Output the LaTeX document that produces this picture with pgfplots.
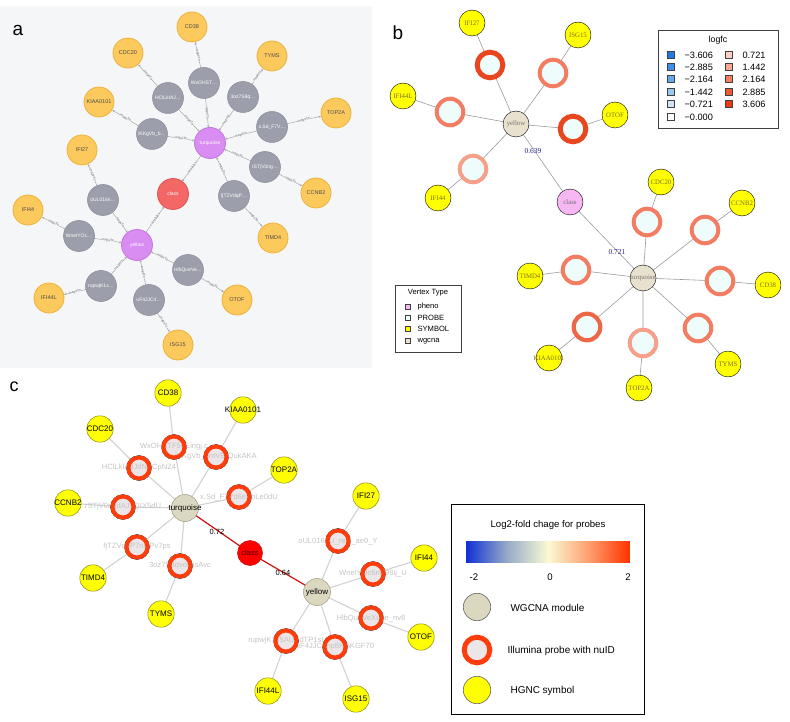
\documentclass[border=0pt]{standalone}
\usepackage{fontspec}
\setmainfont{Liberation Sans}
\newfontfamily\seriffont{Liberation Serif}
\usepackage{pgfplots}
\pgfplotsset{compat=1.18}
\usetikzlibrary{arrows.meta}
\newcommand\fs[1]{\fontsize{#1}{#1}\selectfont}
% colours
\definecolor{bgA}{HTML}{F5F6F8}
\definecolor{symA}{HTML}{FCC95C}
\definecolor{symAb}{HTML}{EDB13E}
\definecolor{prbA}{HTML}{9C9FAB}
\definecolor{prbAb}{HTML}{8F929E}
\definecolor{modA}{HTML}{D98DF2}
\definecolor{modAb}{HTML}{C277DD}
\definecolor{clsA}{HTML}{F36767}
\definecolor{clsAb}{HTML}{E05555}
\definecolor{edgeA}{HTML}{A8A8A8}
\definecolor{ylw}{HTML}{FFFF00}
\definecolor{ylwtxt}{HTML}{807020}
\definecolor{modB}{HTML}{E8E1CE}
\definecolor{clsB}{HTML}{F6B7F2}
\definecolor{prbfillB}{HTML}{EFFCFC}
\definecolor{ringDark}{HTML}{E8461E}
\definecolor{ringMid}{HTML}{F27D62}
\definecolor{ringMid2}{HTML}{EE6648}
\definecolor{ringLight}{HTML}{F5A08A}
\definecolor{navy}{HTML}{252590}
\definecolor{edgeB}{HTML}{9A9A9A}
\definecolor{modC}{HTML}{DCD8C0}
\definecolor{modCb}{HTML}{A8A490}
\definecolor{ringC}{HTML}{FF3D0C}
\definecolor{prbfillC}{HTML}{ECE6E8}
\definecolor{edgeC}{HTML}{D2D2D2}
\definecolor{redC}{HTML}{D01010}
\definecolor{lblC}{HTML}{C4C4C4}
\definecolor{symCb}{HTML}{9A9A20}
\definecolor{bl1}{HTML}{1F7BE0}
\definecolor{bl2}{HTML}{3F8FE6}
\definecolor{bl3}{HTML}{64A8EC}
\definecolor{bl4}{HTML}{9AC7F2}
\definecolor{bl5}{HTML}{CFE2F6}
\definecolor{rd1}{HTML}{F8CFC4}
\definecolor{rd2}{HTML}{F4A895}
\definecolor{rd3}{HTML}{F08060}
\definecolor{rd4}{HTML}{EC5A3A}
\definecolor{rd5}{HTML}{E83A14}
% edge macros
\newcommand\eA[5]{\addplot[color=edgeA, line width=0.5pt, shorten >=15.5pt, -{Stealth[length=2.4pt,width=2.2pt]}, no marks] coordinates {(#1,#2) (#3,#4)} node[pos=0.5, sloped, fill=bgA, inner sep=0.2pt, text=black!60, font=\fs{3.4}] {#5};}
\newcommand\eB[6]{\addplot[color=edgeB, line width=0.6pt, no marks] coordinates {(#1,#2) (#3,#4) (#5,#6)};}
\newcommand\eC[6]{\addplot[color=edgeC, line width=1.1pt, no marks] coordinates {(#1,#2) (#3,#4) (#5,#6)};}
\newcommand\sq[4]{\addplot[only marks, mark=square*, mark size=#4, mark options={fill=#3, draw=black!75, line width=0.5pt}] coordinates {(#1,#2)};}
\begin{document}
\begin{tikzpicture}
\begin{axis}[
  scale only axis, width=790pt, height=722pt,
  xmin=0, xmax=790, ymin=0, ymax=722, y dir=reverse,
  hide axis, clip=false,
  colormap={lfc}{rgb255=(16,48,210) rgb255=(150,170,200) rgb255=(250,250,212) rgb255=(255,160,112) rgb255=(255,52,0)},
  point meta min=-2, point meta max=2,
]
\addplot[draw=none, no marks] coordinates {(0,0) (790,722)};
% ================= panel a =================
\addplot[fill=bgA, draw=none, no marks] coordinates {(0,6) (372,6) (372,368) (0,368)} -- cycle;
\eA{204}{83}{192}{27}{mapsTo}
\eA{204}{83}{210}{143}{mapsTo}
\eA{168}{98}{128}{53}{mapsTo}
\eA{168}{98}{210}{143}{mapsTo}
\eA{243}{97}{272}{56}{mapsTo}
\eA{243}{97}{210}{143}{mapsTo}
\eA{152}{134}{99}{102}{mapsTo}
\eA{152}{134}{210}{143}{mapsTo}
\eA{272}{127}{336}{113}{mapsTo}
\eA{272}{127}{210}{143}{mapsTo}
\eA{265}{167}{316}{193}{mapsTo}
\eA{265}{167}{210}{143}{mapsTo}
\eA{234}{196}{273}{238}{mapsTo}
\eA{234}{196}{210}{143}{mapsTo}
\eA{103}{200}{82}{150}{mapsTo}
\eA{103}{200}{137}{245}{mapsTo}
\eA{79}{236}{28}{210}{mapsTo}
\eA{79}{236}{137}{245}{mapsTo}
\eA{188}{270}{237}{300}{mapsTo}
\eA{188}{270}{137}{245}{mapsTo}
\eA{101}{286}{49}{298}{mapsTo}
\eA{101}{286}{137}{245}{mapsTo}
\eA{149}{300}{178}{345}{mapsTo}
\eA{149}{300}{137}{245}{mapsTo}
\eA{210}{143}{173}{194}{correlates}
\eA{137}{245}{173}{194}{correlates}
\addplot[only marks, mark=*, mark size=15pt, mark options={fill=symA, draw=symAb, line width=0.8pt},
  nodes near coords, point meta=explicit symbolic,
  every node near coord/.append style={anchor=center, font=\fs{5.5}, text=black!70}]
  table[row sep=\\, meta=lab] {x y lab\\ 192 27 CD38\\ 128 53 CDC20\\ 272 56 TYMS\\ 99 102 KIAA0101\\ 336 113 TOP2A\\ 82 150 IFI27\\ 316 193 CCNB2\\ 28 210 IFI44\\ 273 238 TIMD4\\ 49 298 IFI44L\\ 237 300 OTOF\\ 178 345 ISG15\\};
\addplot[only marks, mark=*, mark size=15.5pt, mark options={fill=prbA, draw=prbAb, line width=0.6pt},
  nodes near coords, point meta=explicit symbolic,
  every node near coord/.append style={anchor=center, font=\fs{5}, text=white}]
  table[row sep=\\, meta=lab] {x y lab\\ 204 83 WxOHST…\\ 168 98 HClLkIAJ…\\ 243 97 3oz7S8q…\\ 152 134 iKKgVb\_b…\\ 272 127 x.Sd\_F7V…\\ 265 167 rST|V0ng…\\ 234 196 fjTZVdqP…\\ 103 200 oUL016n…\\ 79 236 WnelYOc…\\ 188 270 HlbQueVe…\\ 101 286 rupwjK1x…\\ 149 300 uF4JJC4…\\};
\addplot[only marks, mark=*, mark size=15.5pt, mark options={fill=modA, draw=modAb, line width=0.8pt},
  nodes near coords, point meta=explicit symbolic,
  every node near coord/.append style={anchor=center, font=\fs{5}, text=white}]
  table[row sep=\\, meta=lab] {x y lab\\ 210 143 turquoise\\ 137 245 yellow\\};
\addplot[only marks, mark=*, mark size=15.5pt, mark options={fill=clsA, draw=clsAb, line width=0.8pt},
  nodes near coords, point meta=explicit symbolic,
  every node near coord/.append style={anchor=center, font=\fs{5}, text=white}]
  table[row sep=\\, meta=lab] {x y lab\\ 173 194 class\\};
\node[anchor=center, font=\fs{19}] at (axis cs:18,30) {a};
% ================= panel b =================
\eB{472}{23}{490}{65}{516}{124}
\eB{578}{35}{553}{73}{516}{124}
\eB{403}{96}{450}{112}{516}{124}
\eB{615}{115}{573}{129}{516}{124}
\eB{438}{198}{473}{169}{516}{124}
\eB{661}{182}{647}{222}{643}{278}
\eB{742}{203}{705}{230}{643}{278}
\eB{530}{276}{576}{270}{643}{278}
\eB{768}{285}{720}{281}{643}{278}
\eB{549}{358}{587}{327}{643}{278}
\eB{639}{388}{643}{343}{643}{278}
\eB{728}{364}{698}{328}{643}{278}
\eB{516}{124}{570}{202}{643}{278}
\addplot[only marks, mark=*, mark size=12.8pt, mark options={fill=prbfillB, draw=ringDark, line width=5pt}] coordinates {(490,65) (573,129)};
\addplot[only marks, mark=*, mark size=13.3pt, mark options={fill=prbfillB, draw=ringMid, line width=4pt}] coordinates {(553,73) (450,112) (647,222) (705,230) (576,270) (720,281) (698,328)};
\addplot[only marks, mark=*, mark size=13.3pt, mark options={fill=prbfillB, draw=ringMid2, line width=4.2pt}] coordinates {(587,327)};
\addplot[only marks, mark=*, mark size=13.3pt, mark options={fill=prbfillB, draw=ringLight, line width=4pt}] coordinates {(473,169) (643,343)};
\addplot[only marks, mark=*, mark size=13pt, mark options={fill=ylw, draw=none},
  nodes near coords, point meta=explicit symbolic,
  every node near coord/.append style={anchor=center, font=\seriffont\fs{6.8}, text=ylwtxt}]
  table[row sep=\\, meta=lab] {x y lab\\ 472 23 IFI27\\ 578 35 ISG15\\ 403 96 IFI44L\\ 615 115 OTOF\\ 438 198 IFI44\\ 661 182 CDC20\\ 742 203 CCNB2\\ 530 276 TIMD4\\ 768 285 CD38\\ 549 358 KIAA0101\\ 639 388 TOP2A\\ 728 364 TYMS\\};
\addplot[only marks, mark=*, mark size=13pt, mark options={fill=modB, draw=none},
  nodes near coords, point meta=explicit symbolic,
  every node near coord/.append style={anchor=center, font=\seriffont\fs{6.8}, text=black!55}]
  table[row sep=\\, meta=lab] {x y lab\\ 516 124 yellow\\ 643 278 turquoise\\};
\addplot[only marks, mark=*, mark size=13pt, mark options={fill=clsB, draw=none},
  nodes near coords, point meta=explicit symbolic,
  every node near coord/.append style={anchor=center, font=\seriffont\fs{6.8}, text=black!55}]
  table[row sep=\\, meta=lab] {x y lab\\ 570 202 class\\};
\node[font=\seriffont\fs{7.5}, text=navy] at (axis cs:533,151) {0.639};
\node[font=\seriffont\fs{7.5}, text=navy] at (axis cs:617,252) {0.721};
\node[anchor=center, font=\fs{19}] at (axis cs:398,33) {b};
% logfc legend
\addplot[fill=white, draw=black!75, line width=0.7pt, no marks] coordinates {(658,30) (778,30) (778,128) (658,128)} -- cycle;
\node[font=\fs{8.8}] at (axis cs:718,40) {logfc};
\sq{671}{55}{bl1}{3.3pt}
\sq{671}{67}{bl2}{3.3pt}
\sq{671}{79}{bl3}{3.3pt}
\sq{671}{92}{bl4}{3.3pt}
\sq{671}{104}{bl5}{3.3pt}
\sq{671}{117}{white}{3.3pt}
\sq{729}{55}{rd1}{3.3pt}
\sq{729}{67}{rd2}{3.3pt}
\sq{729}{79}{rd3}{3.3pt}
\sq{729}{92}{rd4}{3.3pt}
\sq{729}{104}{rd5}{3.3pt}
\node[anchor=west, font=\fs{9.2}] at (axis cs:681,55) {−3.606};
\node[anchor=west, font=\fs{9.2}] at (axis cs:681,67) {−2.885};
\node[anchor=west, font=\fs{9.2}] at (axis cs:681,79) {−2.164};
\node[anchor=west, font=\fs{9.2}] at (axis cs:681,92) {−1.442};
\node[anchor=west, font=\fs{9.2}] at (axis cs:681,104) {−0.721};
\node[anchor=west, font=\fs{9.2}] at (axis cs:681,117) {−0.000};
\node[anchor=west, font=\fs{9.2}] at (axis cs:739,55) {0.721};
\node[anchor=west, font=\fs{9.2}] at (axis cs:739,67) {1.442};
\node[anchor=west, font=\fs{9.2}] at (axis cs:739,79) {2.164};
\node[anchor=west, font=\fs{9.2}] at (axis cs:739,92) {2.885};
\node[anchor=west, font=\fs{9.2}] at (axis cs:739,104) {3.606};
% vertex type legend
\addplot[fill=white, draw=black!75, line width=0.7pt, no marks] coordinates {(395,285) (461,285) (461,352) (395,352)} -- cycle;
\node[font=\fs{7.6}] at (axis cs:428,293) {Vertex Type};
\sq{408}{307}{clsB}{2.6pt}
\sq{408}{318}{prbfillB}{2.6pt}
\sq{408}{329}{ylw}{2.6pt}
\sq{408}{341}{modB}{2.6pt}
\node[anchor=west, font=\fs{7.6}] at (axis cs:414,307) {pheno};
\node[anchor=west, font=\fs{7.6}] at (axis cs:414,318) {PROBE};
\node[anchor=west, font=\fs{7.6}] at (axis cs:414,329) {SYMBOL};
\node[anchor=west, font=\fs{7.6}] at (axis cs:414,341) {wgcna};
% ================= panel c =================
\eC{168}{393}{174}{447}{185}{508}
\eC{243}{410}{216}{457}{185}{508}
\eC{100}{429}{139}{468}{185}{508}
\eC{284}{470}{239}{497}{185}{508}
\eC{68}{503}{123}{507}{185}{508}
\eC{93}{578}{137}{547}{185}{508}
\eC{161}{614}{180}{566}{185}{508}
\eC{366}{496}{338}{541}{317}{592}
\eC{424}{558}{373}{574}{317}{592}
\eC{421}{637}{371}{618}{317}{592}
\eC{268}{691}{286}{641}{317}{592}
\eC{356}{699}{335}{647}{317}{592}
\addplot[color=redC, line width=1.2pt, no marks] coordinates {(185,508) (250,553) (317,592)};
\node[font=\fs{7.5}] at (axis cs:217,532) {0.72};
\node[font=\fs{7.5}] at (axis cs:283,573) {0.64};
% probe fills, labels, rings
\addplot[only marks, mark=*, mark size=12.5pt, mark options={fill=prbfillC, draw=none},
  nodes near coords, point meta=explicit symbolic,
  every node near coord/.append style={anchor=center, font=\fs{7.6}, text=lblC}]
  table[row sep=\\, meta=lab] {x y lab\\ 174 447 WxOHSTF56Eingj.c\\ 216 457 iKKgVb\_bmVBIQukAKA\\ 139 468 HClLkIAJJdNXCpNZ4\\ 239 497 x.Sd\_F7Vd6eXbLe0dU\\ 123 507 rSTjV0ngdAJhQIX5dU\\ 137 547 fjTZVdqP7nl3Pv7ps\\ 180 566 3oz7S8qvoi3isAvc\\ 338 541 oUL016nU\_reLi\_ae0\_Y\\ 373 574 WnelYOc6nkl98ij\_U\\ 371 618 HlbQueVeXu6e\_nv8\\ 286 641 rupwjK1x5AUVdTP1sI\\ 335 647 uF4JJC4np8Kl5KGF70\\};
\addplot[only marks, mark=o, mark size=10.5pt, mark options={draw=ringC, line width=4pt}] coordinates {(174,447) (216,457) (139,468) (239,497) (123,507) (137,547) (180,566) (338,541) (373,574) (371,618) (286,641) (335,647)};
\addplot[only marks, mark=*, mark size=13.5pt, mark options={fill=modC, draw=modCb, line width=0.6pt},
  nodes near coords, point meta=explicit symbolic,
  every node near coord/.append style={anchor=center, font=\fs{8}, text=black}]
  table[row sep=\\, meta=lab] {x y lab\\ 185 508 turquoise\\ 317 592 yellow\\};
\addplot[only marks, mark=*, mark size=12.5pt, mark options={fill=red, draw=redC, line width=0.6pt},
  nodes near coords, point meta=explicit symbolic,
  every node near coord/.append style={anchor=center, font=\fs{7.5}, text=black!70!red}]
  table[row sep=\\, meta=lab] {x y lab\\ 250 553 class\\};
\addplot[only marks, mark=*, mark size=13.2pt, mark options={fill=ylw, draw=symCb, line width=0.6pt},
  nodes near coords, point meta=explicit symbolic,
  every node near coord/.append style={anchor=center, font=\fs{8}, text=black}]
  table[row sep=\\, meta=lab] {x y lab\\ 168 393 CD38\\ 243 410 KIAA0101\\ 100 429 CDC20\\ 284 470 TOP2A\\ 68 503 CCNB2\\ 93 578 TIMD4\\ 161 614 TYMS\\ 366 496 IFI27\\ 424 558 IFI44\\ 421 637 OTOF\\ 268 691 IFI44L\\ 356 699 ISG15\\};
\node[anchor=center, font=\fs{18}] at (axis cs:14,387) {c};
% legend c
\addplot[fill=white, draw=black, line width=0.8pt, no marks] coordinates {(451,504) (644,504) (644,714) (451,714)} -- cycle;
\node[font=\fs{9.6}] at (axis cs:548,525) {Log2-fold chage for probes};
\addplot[patch, shader=interp, point meta=explicit] coordinates {
 (466,541) [-2] (507,541) [-1] (507,562) [-1]
 (466,541) [-2] (507,562) [-1] (466,562) [-2]
 (507,541) [-1] (547.5,541) [0] (547.5,562) [0]
 (507,541) [-1] (547.5,562) [0] (507,562) [-1]
 (547.5,541) [0] (588,541) [1] (588,562) [1]
 (547.5,541) [0] (588,562) [1] (547.5,562) [0]
 (588,541) [1] (629,541) [2] (629,562) [2]
 (588,541) [1] (629,562) [2] (588,562) [1]
};
\node[font=\fs{9.6}] at (axis cs:474,577) {-2};
\node[font=\fs{9.6}] at (axis cs:550,577) {0};
\node[font=\fs{9.6}] at (axis cs:628,577) {2};
\addplot[only marks, mark=*, mark size=13.7pt, mark options={fill=modC, draw=black!60, line width=0.6pt}] coordinates {(477,607)};
\addplot[only marks, mark=*, mark size=12.8pt, mark options={fill=prbfillC, draw=ringC, line width=5pt}] coordinates {(477,650)};
\addplot[only marks, mark=*, mark size=13.7pt, mark options={fill=ylw, draw=black!60, line width=0.6pt}] coordinates {(477,690)};
\node[anchor=west, font=\fs{10}] at (axis cs:507,608) {WGCNA module};
\node[anchor=west, font=\fs{10}] at (axis cs:504,651) {Illumina probe with nuID};
\node[anchor=west, font=\fs{10}] at (axis cs:507,691) {HGNC symbol};
\end{axis}
\end{tikzpicture}
\end{document}
